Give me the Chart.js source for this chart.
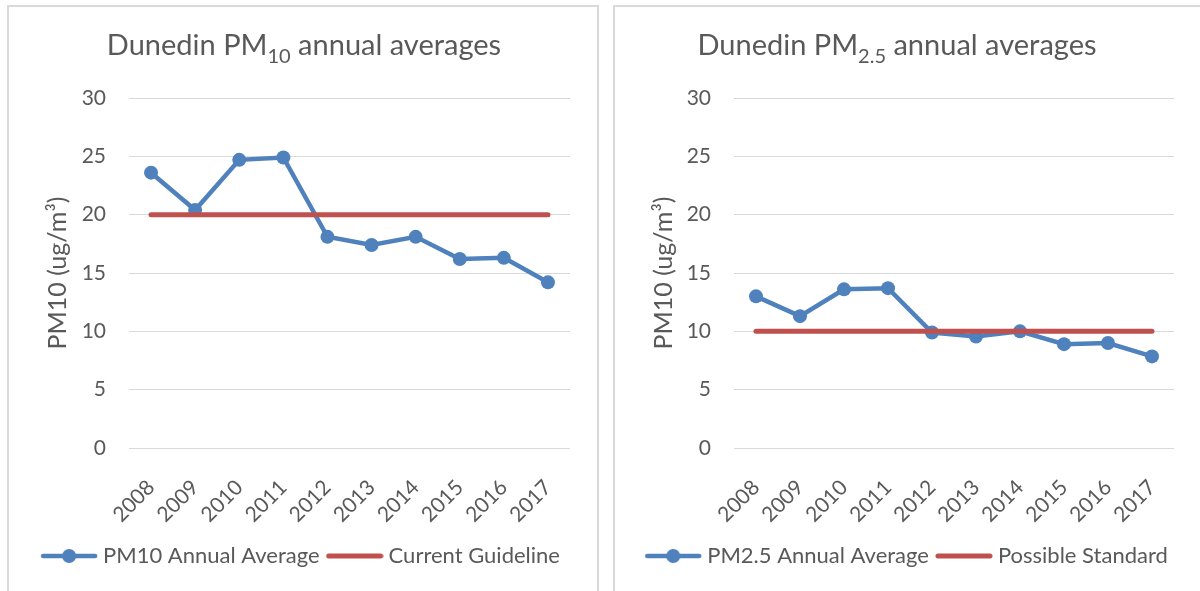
<!DOCTYPE html>
<html>
<head>
<meta charset="utf-8">
<script src="https://cdn.jsdelivr.net/npm/chart.js@4"></script>
<style>
  body { margin: 0; width: 1200px; height: 591px; overflow: hidden; background: #fff; font-family: Lato, sans-serif; }
  .box { position: absolute; top: 5px; width: 588px; height: 600px; border: 2px solid #d9d9d9; }
  #box1 { left: 7px; }
  #box2 { left: 613px; }
  canvas { display: block; }
</style>
</head>
<body>
<div class="box" id="box1"><canvas id="chartPm10" width="588" height="584"></canvas></div>
<div class="box" id="box2"><canvas id="chartPm25" width="588" height="584"></canvas></div>
<script>
var years = ["2008", "2009", "2010", "2011", "2012", "2013", "2014", "2015", "2016", "2017"];
var pm10Average = [23.6, 20.4, 24.7, 24.9, 18.1, 17.4, 18.1, 16.2, 16.3, 14.2];
var pm10Guideline = [20, 20, 20, 20, 20, 20, 20, 20, 20, 20];
var pm25Average = [13.0, 11.3, 13.6, 13.7, 9.9, 9.55, 10.0, 8.9, 9.0, 7.85];
var pm25Standard = [10, 10, 10, 10, 10, 10, 10, 10, 10, 10];
var yMin = 0;
var yMax = 30;
var yStep = 5;

var blue = "#4f81bd";
var red = "#c0504d";
var grey = "#595959";

// legend symbol: line with optional round marker
function legendIcon(color, marker) {
    var c = document.createElement("canvas");
    c.width = 58;
    c.height = 18;
    var g = c.getContext("2d");
    g.strokeStyle = color;
    g.lineWidth = marker ? 4.5 : 5;
    g.lineCap = "round";
    g.beginPath();
    g.moveTo(3, 9);
    g.lineTo(55, 9);
    g.stroke();
    if (marker) {
        g.fillStyle = color;
        g.beginPath();
        g.arc(29, 9, 7, 0, Math.PI * 2);
        g.fill();
    }
    return c;
}

// title with a subscript part
var subTitlePlugin = {
    id: "subTitle",
    afterDraw: function (chart, args, opts) {
        var ctx = chart.ctx;
        ctx.save();
        ctx.fillStyle = grey;
        ctx.textBaseline = "alphabetic";
        ctx.textAlign = "left";
        ctx.font = "29px Lato";
        var w1 = ctx.measureText(opts.main).width;
        var w3 = ctx.measureText(opts.rest).width;
        ctx.font = "20px Lato";
        var w2 = ctx.measureText(opts.sub).width;
        var x = opts.center - (w1 + w2 + w3) / 2;
        var y = opts.baseline;
        ctx.font = "29px Lato";
        ctx.fillText(opts.main, x, y);
        ctx.font = "20px Lato";
        ctx.fillText(opts.sub, x + w1, y + 8);
        ctx.font = "29px Lato";
        ctx.fillText(opts.rest, x + w1 + w2, y);
        ctx.restore();
    }
};

function makeChart(id, cfg) {
    return new Chart(document.getElementById(id), {
        type: "line",
        data: {
            labels: years,
            datasets: [{
                label: cfg.seriesLabel,
                data: cfg.series,
                borderColor: blue,
                backgroundColor: blue,
                borderWidth: 4.5,
                pointRadius: 7,
                pointHoverRadius: 7,
                pointBorderWidth: 0,
                tension: 0,
                order: 1
            }, {
                label: cfg.limitLabel,
                data: cfg.limit,
                borderColor: red,
                backgroundColor: red,
                borderWidth: 5,
                borderCapStyle: "round",
                pointRadius: 0,
                tension: 0,
                order: 0
            }]
        },
        options: {
            responsive: false,
            animation: false,
            layout: { padding: { top: 91, right: 0, bottom: 14, left: 0 } },
            scales: {
                x: {
                    offset: true,
                    grid: { display: false },
                    border: { display: false },
                    ticks: {
                        color: grey,
                        font: { family: "Lato", size: 21 },
                        minRotation: 45,
                        maxRotation: 45,
                        autoSkip: false,
                        padding: 19
                    },
                    afterFit: function (scale) { scale.height = 85; }
                },
                y: {
                    min: yMin,
                    max: yMax,
                    ticks: {
                        stepSize: yStep,
                        color: grey,
                        font: { family: "Lato", size: 21 },
                        padding: 23
                    },
                    grid: { color: "#d9d9d9", lineWidth: 1, drawTicks: false },
                    border: { display: false },
                    title: {
                        display: true,
                        text: "PM10 (ug/m\u00b3)",
                        color: grey,
                        font: { family: "Lato", size: 25 },
                        padding: { top: 34, bottom: 0 }
                    },
                    afterFit: function (scale) { scale.width = cfg.axisWidth; }
                },
                // empty right-hand axis, only keeps the gap right of the plot
                gap: {
                    position: "right",
                    display: true,
                    grid: { display: false },
                    border: { display: false },
                    ticks: { display: false },
                    afterFit: function (scale) { scale.width = cfg.gapRight; }
                }
            },
            plugins: {
                legend: {
                    position: "bottom",
                    labels: {
                        color: grey,
                        font: { family: "Lato", size: 22 },
                        usePointStyle: true,
                        pointStyleWidth: 46,
                        boxHeight: 20,
                        padding: 12,
                        sort: function (a, b) { return a.datasetIndex - b.datasetIndex; },
                        generateLabels: function (chart) {
                            var items = Chart.defaults.plugins.legend.labels.generateLabels(chart);
                            items.forEach(function (it) {
                                it.pointStyle = it.datasetIndex === 0 ? legendIcon(blue, true) : legendIcon(red, false);
                            });
                            return items;
                        }
                    }
                },
                tooltip: { enabled: false },
                subTitle: cfg.title
            }
        },
        plugins: [subTitlePlugin]
    });
}

makeChart("chartPm10", {
    seriesLabel: "PM10 Annual Average",
    series: pm10Average,
    limitLabel: "Current Guideline",
    limit: pm10Guideline,
    axisWidth: 120,
    gapRight: 27,
    title: { main: "Dunedin PM", sub: "10", rest: " annual averages", center: 295, baseline: 48 }
});

makeChart("chartPm25", {
    seriesLabel: "PM2.5 Annual Average",
    series: pm25Average,
    limitLabel: "Possible Standard",
    limit: pm25Standard,
    axisWidth: 119,
    gapRight: 29,
    title: { main: "Dunedin PM", sub: "2.5", rest: " annual averages", center: 282, baseline: 48 }
});
</script>
</body>
</html>
